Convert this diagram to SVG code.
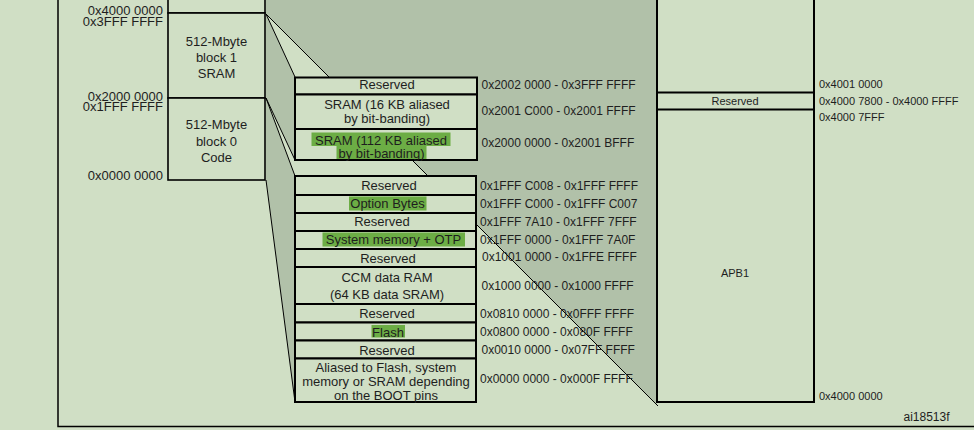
<svg xmlns="http://www.w3.org/2000/svg" width="974" height="430" viewBox="0 0 974 430">
<style>
text{font-family:"Liberation Sans",Arial,Helvetica,sans-serif;fill:#1e1e1e}
.bx{fill:#d0dfc5;stroke:#000;stroke-width:2}
.col{fill:#d0dfc5;stroke:#000;stroke-width:1.6}
.c{font-size:13px;text-anchor:middle}
.lbl{font-size:13px;text-anchor:end}
.adr{font-size:12px}
.s11{font-size:11px}
.hl{fill:#6cad45}
.proj{fill:#b1c1a9}
.pl{stroke:#000;stroke-width:1;fill:none}
</style>
<rect width="974" height="430" fill="#d0dfc5"/>
<g id="connectors">
 <polygon class="proj" points="266,-2 657,-2 657,405 266,14"/>
 <polygon class="proj" points="266,14 295,77 295,160 266,98"/>
 <polygon class="proj" points="266,98 295,176 295,402 266,180"/>
 <path class="pl" d="M266,14 L295,77 M266,98 L295,160 M266,98 L295,176 M266,180 L295,402 M266,14 L658,406"/>
</g>
<path d="M58,-2 V426.5 H976" stroke="#000" stroke-width="1.5" fill="none"/>
<g id="block-top"><rect class="col" x="168" y="-5" width="97" height="18"/></g>
<g id="block1">
 <rect class="col" x="168" y="13" width="97" height="85"/>
 <text class="c" x="216.5" y="46">512-Mbyte</text>
 <text class="c" x="216.5" y="62">block 1</text>
 <text class="c" x="216.5" y="78">SRAM</text>
</g>
<g id="block0">
 <rect class="col" x="168" y="98" width="97" height="82"/>
 <text class="c" x="216.5" y="129">512-Mbyte</text>
 <text class="c" x="216.5" y="146">block 0</text>
 <text class="c" x="216.5" y="162">Code</text>
</g>
<g id="left-addresses">
 <text class="lbl" x="163" y="15">0x4000 0000</text>
 <text class="lbl" x="163" y="26">0x3FFF FFFF</text>
 <text class="lbl" x="163" y="101">0x2000 0000</text>
 <text class="lbl" x="163" y="111">0x1FFF FFFF</text>
 <text class="lbl" x="163" y="180">0x0000 0000</text>
</g>
<g id="sram-reserved">
 <rect class="bx" x="295" y="77.5" width="182" height="17"/>
 <text class="c" x="387" y="89">Reserved</text>
 <text class="adr" x="481.5" y="88.5">0x2002 0000 - 0x3FFF FFFF</text>
</g>
<g id="sram-16kb">
 <rect class="bx" x="295" y="94.5" width="182" height="34.5"/>
 <text class="c" x="387" y="109">SRAM (16 KB aliased</text>
 <text class="c" x="387" y="123">by bit-banding)</text>
 <text class="adr" x="481.5" y="115">0x2001 C000 - 0x2001 FFFF</text>
</g>
<g id="sram-112kb">
 <rect class="bx" x="295" y="129" width="182" height="31"/>
 <rect class="hl" x="311.5" y="132.5" width="139" height="13.5"/>
 <rect class="hl" x="336.5" y="146" width="90" height="13"/>
 <text class="c" x="381" y="145">SRAM (112 KB aliased</text>
 <text class="c" x="381.5" y="158">by bit-banding)</text>
 <text class="adr" x="481.5" y="146.5">0x2000 0000 - 0x2001 BFFF</text>
</g>
<g id="code-reserved-1">
 <rect class="bx" x="295" y="176" width="181" height="19"/>
 <text class="c" x="389" y="190">Reserved</text>
 <text class="adr" x="480" y="189.5">0x1FFF C008 - 0x1FFF FFFF</text>
</g>
<g id="option-bytes">
 <rect class="bx" x="295" y="195" width="181" height="18"/>
 <rect class="hl" x="349" y="196.5" width="77.5" height="14"/>
 <text class="c" x="387.5" y="207.5">Option Bytes</text>
 <text class="adr" x="480" y="207.5">0x1FFF C000 - 0x1FFF C007</text>
</g>
<g id="code-reserved-2">
 <rect class="bx" x="295" y="213" width="181" height="18"/>
 <text class="c" x="382" y="226">Reserved</text>
 <text class="adr" x="480" y="225.5">0x1FFF 7A10 - 0x1FFF 7FFF</text>
</g>
<g id="system-memory">
 <rect class="bx" x="295" y="231" width="181" height="18"/>
 <rect class="hl" x="322.5" y="232.5" width="142.5" height="14"/>
 <text class="c" x="393.5" y="244">System memory + OTP</text>
 <text class="adr" x="480" y="244">0x1FFF 0000 - 0x1FFF 7A0F</text>
</g>
<g id="code-reserved-3">
 <rect class="bx" x="295" y="249" width="181" height="18"/>
 <text class="c" x="388" y="262.5">Reserved</text>
 <text class="adr" x="482" y="261">0x1001 0000 - 0x1FFE FFFF</text>
</g>
<g id="ccm-ram">
 <rect class="bx" x="295" y="267" width="181" height="37"/>
 <text class="c" x="387" y="281.5">CCM data RAM</text>
 <text class="c" x="387" y="299">(64 KB data SRAM)</text>
 <text class="adr" x="481.5" y="290">0x1000 0000 - 0x1000 FFFF</text>
</g>
<g id="code-reserved-4">
 <rect class="bx" x="295" y="304" width="181" height="18.5"/>
 <text class="c" x="387" y="318">Reserved</text>
 <text class="adr" x="480" y="317.5">0x0810 0000 - 0x0FFF FFFF</text>
</g>
<g id="flash">
 <rect class="bx" x="295" y="322.5" width="181" height="18"/>
 <rect class="hl" x="371.5" y="325" width="33.5" height="12.5"/>
 <text class="c" x="388" y="336.5">Flash</text>
 <text class="adr" x="480" y="335.5">0x0800 0000 - 0x080F FFFF</text>
</g>
<g id="code-reserved-5">
 <rect class="bx" x="295" y="340.5" width="181" height="18"/>
 <text class="c" x="387" y="354.5">Reserved</text>
 <text class="adr" x="481.5" y="354">0x0010 0000 - 0x07FF FFFF</text>
</g>
<g id="aliased">
 <rect class="bx" x="295" y="358.5" width="181" height="43.5"/>
 <text class="c" x="386" y="372">Aliased to Flash, system</text>
 <text class="c" x="386" y="386">memory or SRAM depending</text>
 <text class="c" x="386" y="399.5">on the BOOT pins</text>
 <text class="adr" x="480" y="382.5">0x0000 0000 - 0x000F FFFF</text>
</g>
<g id="apb1">
 <rect class="bx" x="657" y="-5" width="157" height="407"/>
 <text class="s11" x="735" y="277" text-anchor="middle">APB1</text>
 <text class="s11" x="819" y="400">0x4000 0000</text>
 <text class="s11" x="819" y="120.5">0x4000 7FFF</text>
 <text class="s11" x="819" y="88">0x4001 0000</text>
</g>
<g id="apb1-reserved">
 <rect class="bx" x="657" y="92.5" width="157" height="17"/>
 <text class="s11" x="735" y="105" text-anchor="middle">Reserved</text>
 <text class="s11" x="819" y="104.5">0x4000 7800 - 0x4000 FFFF</text>
</g>
<text x="903.5" y="421" style="font-size:12px">ai18513f</text>
</svg>
